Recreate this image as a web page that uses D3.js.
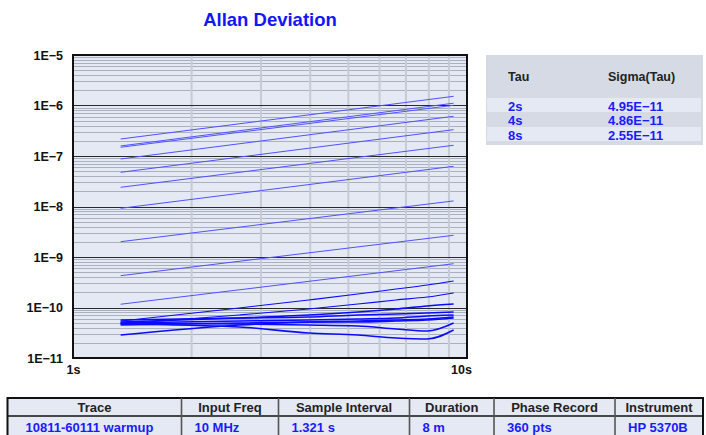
<!DOCTYPE html>
<html>
<head>
<meta charset="utf-8">
<script src="https://cdn.jsdelivr.net/npm/d3@7"></script>
<style>
  body { margin: 0; background: #fff; }
  text { font-family: "Liberation Sans", Arial, sans-serif; font-weight: bold; }
</style>
</head>
<body>
<div id="chart"></div>
<script>
const width = 706;
const height = 435;
const marginTop = 55;
const marginLeft = 73;
const plotRight = 467;
const plotBottom = 358;

// straight traces, sigma read at first and last tau
const lineTau = [1.321, 9.247];
const driftStart = [2.17e-7, 1.58e-7, 1.49e-7, 8.73e-8, 4.75e-8, 2.40e-8, 9.2e-9, 2.01e-9, 4.27e-10, 1.16e-10];
const driftEnd = [1.52e-6, 1.11e-6, 1.01e-6, 6.11e-7, 3.32e-7, 1.63e-7, 6.25e-8, 1.29e-8, 2.69e-9, 7.36e-10];

// lower cluster of traces, sigma at each tau
const clusterTau = [1.321, 2.642, 3.963, 5.284, 6.605, 7.926, 9.247];
const cluster1 = [5.40e-11, 9.77e-11, 1.41e-10, 1.85e-10, 2.32e-10, 2.79e-10, 3.35e-10];
const cluster2 = [4.71e-11, 7.10e-11, 9.33e-11, 1.17e-10, 1.41e-10, 1.61e-10, 1.94e-10];
const cluster3 = [5.16e-11, 6.19e-11, 7.10e-11, 8.14e-11, 9.33e-11, 1.07e-10, 1.17e-10];
const cluster4 = [5.65e-11, 6.19e-11, 6.48e-11, 7.10e-11, 7.43e-11, 7.78e-11, 8.14e-11];
const cluster5 = [4.93e-11, 5.40e-11, 5.65e-11, 5.92e-11, 6.19e-11, 6.79e-11, 7.10e-11];
const cluster6 = [4.50e-11, 4.93e-11, 5.16e-11, 5.16e-11, 5.40e-11, 5.65e-11, 6.19e-11];
const cluster7 = [4.93e-11, 4.71e-11, 4.50e-11, 4.30e-11, 3.75e-11, 3.42e-11, 4.93e-11];
const cluster8 = [4.71e-11, 4.11e-11, 3.13e-11, 2.85e-11, 2.49e-11, 2.38e-11, 3.58e-11];
const cluster9 = [2.85e-11, 4.50e-11, 5.16e-11, 5.40e-11, 5.65e-11, 5.92e-11, 6.48e-11];

const yTicks = [1e-5, 1e-6, 1e-7, 1e-8, 1e-9, 1e-10, 1e-11];
const yTickLabels = ["1E\u22125", "1E\u22126", "1E\u22127", "1E\u22128", "1E\u22129", "1E\u221210", "1E\u221211"];
const xTicks = [1, 10];
const xTickLabels = ["1s", "10s"];

const legendTau = ["2s", "4s", "8s"];
const legendSigma = ["4.95E\u221211", "4.86E\u221211", "2.55E\u221211"];

const tableHeaders = ["Trace", "Input Freq", "Sample Interval", "Duration", "Phase Record", "Instrument"];
const tableValues = ["10811-60111 warmup", "10 MHz", "1.321 s", "8 m", "360 pts", "HP 5370B"];

const x = d3.scaleLog().domain([1, 10]).range([marginLeft, plotRight]);
const y = d3.scaleLog().domain([1e-11, 1e-5]).range([plotBottom, marginTop]);

const svg = d3.create("svg")
    .attr("width", width)
    .attr("height", height);

// title
svg.append("text")
    .attr("x", 270)
    .attr("y", 26)
    .attr("text-anchor", "middle")
    .attr("font-size", "18.5px")
    .attr("fill", "#1414ff")
    .text("Allan Deviation");

// plot background
svg.append("rect")
    .attr("x", marginLeft)
    .attr("y", marginTop)
    .attr("width", plotRight - marginLeft)
    .attr("height", plotBottom - marginTop)
    .attr("fill", "#e4e9f4");

// minor horizontal grid
const minor = [];
for (let e = -11; e < -5; e++) {
    for (let m = 2; m <= 9; m++) minor.push(m * Math.pow(10, e));
}
svg.append("g")
    .selectAll("line")
    .data(minor)
    .join("line")
    .attr("x1", marginLeft)
    .attr("x2", plotRight)
    .attr("y1", d => Math.round(y(d)) + 0.5)
    .attr("y2", d => Math.round(y(d)) + 0.5)
    .attr("stroke", "#aab0bd")
    .attr("stroke-width", 1);

// vertical grid
svg.append("g")
    .selectAll("line")
    .data(d3.range(2, 10))
    .join("line")
    .attr("x1", d => x(d))
    .attr("x2", d => x(d))
    .attr("y1", marginTop)
    .attr("y2", plotBottom)
    .attr("stroke", "#c6cbd6")
    .attr("stroke-width", 2);

// decade lines
svg.append("g")
    .selectAll("line")
    .data(yTicks.slice(1, -1))
    .join("line")
    .attr("x1", marginLeft)
    .attr("x2", plotRight)
    .attr("y1", d => Math.round(y(d)) + 0.5)
    .attr("y2", d => Math.round(y(d)) + 0.5)
    .attr("stroke", "#2a2a2a")
    .attr("stroke-width", 1.2);

// straight traces
const straight = driftStart.map((s, i) => [[lineTau[0], s], [lineTau[1], driftEnd[i]]]);
const line = d3.line()
    .x(d => x(d[0]))
    .y(d => y(d[1]));

svg.append("g")
    .selectAll("path")
    .data(straight)
    .join("path")
    .attr("fill", "none")
    .attr("stroke", "#5050ff")
    .attr("stroke-width", 1)
    .attr("d", line);

// lower cluster
const clusterSeries = [cluster1, cluster2, cluster3, cluster4, cluster5, cluster6, cluster7, cluster8, cluster9]
    .map(vals => vals.map((v, i) => [clusterTau[i], v]));
const curve = d3.line()
    .x(d => x(d[0]))
    .y(d => y(d[1]))
    .curve(d3.curveMonotoneX);

svg.append("g")
    .selectAll("path")
    .data(clusterSeries)
    .join("path")
    .attr("fill", "none")
    .attr("stroke", "#0a0aff")
    .attr("stroke-width", (d, i) => i < 2 ? 1.1 : 1.6)
    .attr("d", curve);

// frame
svg.append("rect")
    .attr("x", marginLeft)
    .attr("y", marginTop)
    .attr("width", plotRight - marginLeft)
    .attr("height", plotBottom - marginTop)
    .attr("fill", "none")
    .attr("stroke", "#111")
    .attr("stroke-width", 2);

// y axis labels
const yAxis = svg.append("g")
    .attr("transform", `translate(${marginLeft},0)`)
    .call(d3.axisLeft(y).tickValues(yTicks).tickSize(0).tickPadding(10)
        .tickFormat((d, i) => yTickLabels[i]));
yAxis.select(".domain").remove();
yAxis.selectAll("text")
    .attr("font-size", "12.5px")
    .attr("fill", "#111")
    .style("font-family", "'Liberation Sans', Arial, sans-serif")
    .style("font-weight", "bold");

// x axis labels
const xAxis = svg.append("g")
    .attr("transform", `translate(0,${plotBottom})`)
    .call(d3.axisBottom(x).tickValues(xTicks).tickSize(0).tickPadding(7)
        .tickFormat((d, i) => xTickLabels[i]));
xAxis.select(".domain").remove();
xAxis.selectAll("text")
    .attr("font-size", "12.5px")
    .attr("fill", "#111")
    .style("font-family", "'Liberation Sans', Arial, sans-serif")
    .style("font-weight", "bold");
xAxis.selectAll(".tick").filter(d => d === 10).select("text").attr("dx", -6);

// legend box
const legend = svg.append("g");
legend.append("rect")
    .attr("x", 486)
    .attr("y", 55)
    .attr("width", 217)
    .attr("height", 90)
    .attr("fill", "#d5dae5");
legend.append("text").attr("x", 508).attr("y", 81).attr("font-size", "12.5px").attr("fill", "#222").text("Tau");
legend.append("text").attr("x", 608).attr("y", 81).attr("font-size", "12.5px").attr("fill", "#222").text("Sigma(Tau)");

const rows = legend.selectAll("g.row")
    .data(legendTau)
    .join("g")
    .attr("class", "row")
    .attr("transform", (d, i) => `translate(0,${98 + i * 14.5})`);
rows.append("rect")
    .attr("x", 487)
    .attr("width", 214)
    .attr("height", 14)
    .attr("fill", (d, i) => i % 2 === 0 ? "#e4e9f4" : "#d5dae5");
rows.append("text")
    .attr("x", 508)
    .attr("y", 12.5)
    .attr("font-size", "13px")
    .attr("fill", "#1a1aff")
    .text(d => d);
rows.append("text")
    .attr("x", 608)
    .attr("y", 12.5)
    .attr("font-size", "13px")
    .attr("fill", "#1a1aff")
    .text((d, i) => legendSigma[i]);

// info table
const colEdges = [7.5, 181.5, 278.5, 409.5, 494, 615, 703];
const table = svg.append("g");
table.append("rect")
    .attr("x", colEdges[0])
    .attr("y", 398)
    .attr("width", colEdges[6] - colEdges[0])
    .attr("height", 40)
    .attr("fill", "#e4e9f4")
    .attr("stroke", "#111")
    .attr("stroke-width", 2);
table.append("line")
    .attr("x1", colEdges[0]).attr("x2", colEdges[6])
    .attr("y1", 416).attr("y2", 416)
    .attr("stroke", "#111").attr("stroke-width", 1.5);
table.selectAll("line.sep")
    .data(colEdges.slice(1, -1))
    .join("line")
    .attr("class", "sep")
    .attr("x1", d => d).attr("x2", d => d)
    .attr("y1", 398).attr("y2", 438)
    .attr("stroke", "#555").attr("stroke-width", 1.6);
table.selectAll("text.head")
    .data(tableHeaders)
    .join("text")
    .attr("class", "head")
    .attr("x", (d, i) => (colEdges[i] + colEdges[i + 1]) / 2)
    .attr("y", 412)
    .attr("text-anchor", "middle")
    .attr("font-size", "13px")
    .attr("fill", "#222")
    .text(d => d);
table.selectAll("text.val")
    .data(tableValues)
    .join("text")
    .attr("class", "val")
    .attr("x", (d, i) => colEdges[i] + (i === 0 ? 18 : 13))
    .attr("y", 431.5)
    .attr("font-size", "13px")
    .attr("fill", "#1a1aff")
    .text(d => d);

d3.select("#chart").append(() => svg.node());
</script>
</body>
</html>
